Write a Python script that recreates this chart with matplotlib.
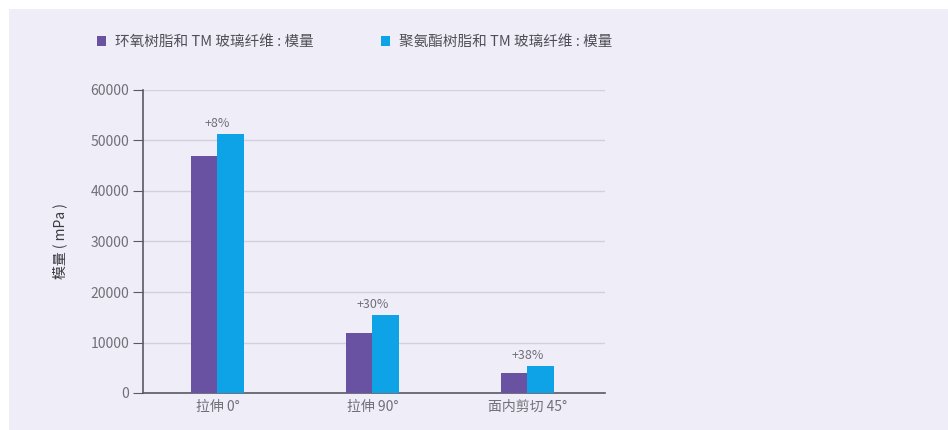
import numpy as np
import matplotlib.pyplot as plt
from matplotlib.patches import Rectangle

plt.rcParams['font.family'] = ['Noto Sans CJK SC', 'DejaVu Sans']

categories = ['拉伸 0°', '拉伸 90°', '面内剪切 45°']
epoxy = [46900, 11800, 4000]
polyurethane = [51200, 15400, 5300]
gains = ['+8%', '+30%', '+38%']
series_names = ['环氧树脂和 TM 玻璃纤维 : 模量', '聚氨酯树脂和 TM 玻璃纤维 : 模量']

bg = '#efedf7'
purple = '#6a52a2'
blue = '#0ea2e6'
txt = '#707078'

fig = plt.figure(figsize=(9.48, 4.30), dpi=100)
fig.patch.set_facecolor('white')
# lavender panel, leaving a thin white margin top and left
fig.add_artist(Rectangle((9 / 948, 0.0), 1, 1 - 9 / 430, transform=fig.transFigure,
                         facecolor=bg, edgecolor='none', zorder=-10))

ax = fig.add_axes([143 / 948, 37 / 430, 462 / 948, 303 / 430])
ax.set_facecolor(bg)

x = np.arange(len(categories))
w = 0.17
ax.bar(x - w / 2, epoxy, w, color=purple, zorder=3, label=series_names[0])
ax.bar(x + w / 2, polyurethane, w, color=blue, zorder=3, label=series_names[1])

for xi, top, g in zip(x, polyurethane, gains):
    ax.text(xi, top + 2100, g, ha='center', va='center', fontsize=9, color=txt)

ax.set_xlim(-0.48, 2.5)
ax.set_ylim(0, 60000)
ax.set_yticks(range(0, 60001, 10000))
ax.set_yticklabels([str(v) for v in range(0, 60001, 10000)])
ax.set_xticks(x)
ax.set_xticklabels(categories)
ax.grid(axis='y', color='#d2d0da', linewidth=1.0, zorder=0)
ax.set_axisbelow(True)

for side in ['top', 'right']:
    ax.spines[side].set_visible(False)
for side in ['left', 'bottom']:
    ax.spines[side].set_color('#5a5a62')
    ax.spines[side].set_linewidth(1.2)
ax.tick_params(axis='y', colors='#5a5a62', labelcolor=txt, labelsize=10, length=7, pad=3)
ax.tick_params(axis='x', length=0, labelcolor=txt, labelsize=10, pad=5)

ax.set_ylabel('模量 ( mPa )', fontsize=10, color='#3a3a40')
ax.yaxis.set_label_coords(-76 / 462, 0.5)

fig.legend(loc='upper left', bbox_to_anchor=(84 / 948, 1 - 22 / 430), ncol=2,
           frameon=False, fontsize=10.5, labelcolor='#4f4f57', handlelength=0.62,
           handleheight=0.62, handletextpad=0.6, columnspacing=4.6)

fig.savefig('out.png', dpi=100, facecolor=fig.get_facecolor())
